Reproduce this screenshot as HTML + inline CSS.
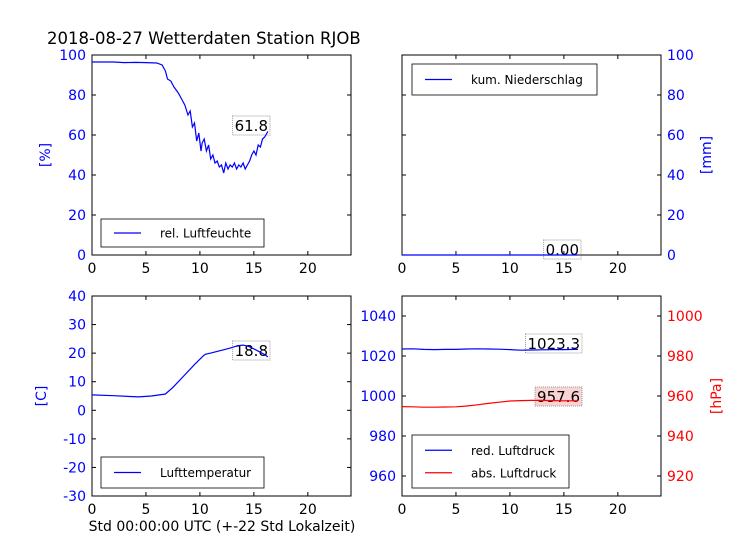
<!DOCTYPE html>
<html><head><meta charset="utf-8"><style>
body{margin:0;background:#fff;}
svg{display:block;font-family:"DejaVu Sans","Liberation Sans",sans-serif;}
</style></head><body>
<svg id="fig" width="736" height="552" xmlns="http://www.w3.org/2000/svg">
<rect width="736" height="552" fill="#fff"/>
<text x="47" y="44" font-size="16.5">2018-08-27 Wetterdaten Station RJOB</text>
<text x="222" y="531" font-size="14" text-anchor="middle">Std 00:00:00 UTC (+-22 Std Lokalzeit)</text>
<g id="labels"></g>
<g id="layer"></g>
<g id="legends"></g>
</svg>
<script>
const hHum=[0,1,2,3,4,5,6,6.5,6.8,7,7.3,7.6,8,8.3,8.6,8.9,9.1,9.3,9.5,9.7,9.9,10.1,10.2,10.4,10.6,10.8,11,11.2,11.4,11.6,11.8,12,12.2,12.4,12.6,12.8,13,13.2,13.4,13.6,13.8,14,14.2,14.4,14.6,14.8,15,15.2,15.4,15.6,15.8,16,16.3];
const humidity=[96.5,96.5,96.5,96.2,96.3,96.2,96,95,92,88,87,84,81,78,75,70,72,64,66,57,61,52,56,58,52,55,48,50,46,47,44,45,41,46,43,45,44,46,43,45,44,46,43,45,47,50,52,50,55,54,58,59,61.8];
const hTemp=[0,2,4.3,5.5,6.8,7.5,8.5,9.5,10.3,10.5,11,11.5,12,12.5,13,13.5,14,14.5,15,15.5,16,16.3];
const temperature=[5.4,5.1,4.7,5.0,5.7,8,12,16,19,19.6,20,20.5,21,21.5,22,22.6,22.8,22.4,21.5,20.5,19.5,18.7];
const hPres=[0,1,2,3,4,5,6,7,8,9,10,11,12,13,14,15,16,16.3];
const redPressure=[1023.5,1023.6,1023.3,1023.2,1023.3,1023.3,1023.5,1023.6,1023.5,1023.4,1023.2,1022.9,1023.0,1023.1,1023.2,1023.2,1023.3,1023.3];
const absPressure=[954.7,954.6,954.4,954.4,954.5,954.6,955.0,955.6,956.3,956.9,957.5,957.7,957.8,957.8,957.7,957.6,957.6,957.6];
const hRain=[0,16.3];
const rain=[0,0];
const xTicks=[0,5,10,15,20];

const NS="http://www.w3.org/2000/svg";
const L=document.getElementById('layer');
const LB=document.getElementById('labels');
const LG=document.getElementById('legends');
function mk(tag,attrs,parent){const e=document.createElementNS(NS,tag);for(const k in attrs)e.setAttribute(k,attrs[k]);(parent||L).appendChild(e);return e;}
function axes(x0,y0,w,h,ymin,ymax){return{x:v=>x0+v/24*w,y:v=>y0+h-(v-ymin)/(ymax-ymin)*h,x0,y0,w,h};}

function frame(a,name){
  const r=mk('rect',{x:a.x0,y:a.y0,width:a.w,height:a.h,fill:'none',stroke:'#000','stroke-width':1});
  
  
  xTicks.forEach(t=>{
    const X=a.x(t);
    mk('line',{x1:X,y1:a.y0+a.h,x2:X,y2:a.y0+a.h-4,stroke:'#000'});
    mk('line',{x1:X,y1:a.y0,x2:X,y2:a.y0+4,stroke:'#000'});
    const tx=mk('text',{x:X,y:a.y0+a.h+18,'font-size':14,'text-anchor':'middle'});
    tx.textContent=t;
    
    
  });
}
function yticks(a,vals,side,color,name,scale){
  vals.forEach(v=>{
    const Y=scale(v);
    mk('line',{x1:a.x0,y1:Y,x2:a.x0+4,y2:Y,stroke:'#000'});
    mk('line',{x1:a.x0+a.w,y1:Y,x2:a.x0+a.w-4,y2:Y,stroke:'#000'});
    const tx=side==='left'?mk('text',{x:a.x0-6,y:Y+5,'font-size':14,'text-anchor':'end',fill:color}):mk('text',{x:a.x0+a.w+6,y:Y+5,'font-size':14,'text-anchor':'start',fill:color});
    tx.textContent=v;
    
    
  });
}
function line(a,xs,ys,color,name,scale){
  const pts=xs.map((x,i)=>a.x(x).toFixed(1)+','+scale(ys[i]).toFixed(1)).join(' ');
  const p=mk('polyline',{points:pts,fill:'none',stroke:color,'stroke-width':1.2});
  
  
}
function label(x,y,txt,bg,name){
  const r=mk('rect',{x:0,y:y-15,width:10,height:19,fill:bg,'fill-opacity':0.6,stroke:'#999','stroke-dasharray':'1,1'},LB);
  const t=mk('text',{x:x,y:y,'font-size':15,'text-anchor':'end'},LB);
  t.textContent=txt;
  
  
  const w=t.getComputedTextLength();
  r.setAttribute('x',x-w-2);r.setAttribute('width',w+4);
}
function legend(x,y,w,h,entries,name){
  const g=mk('g',{},LG);
  
  
  mk('rect',{x:x,y:y,width:w,height:h,fill:'#fff',stroke:'#000','stroke-width':0.8},g);
  entries.forEach((e,i)=>{
    const Y=y+h/(entries.length)*(i+0.5)+(entries.length>1?(i===0?2:-2):0);
    mk('line',{x1:x+13,y1:Y,x2:x+40,y2:Y,stroke:e[1],'stroke-width':1.2},g);
    const t=mk('text',{x:x+59,y:Y+4.5,'font-size':12},g);t.textContent=e[0];
  });
}
function ytitle(x,y,txt,color,name){
  const t=mk('text',{x:x,y:y,'font-size':14,fill:color,'text-anchor':'middle',transform:`rotate(-90 ${x} ${y})`});
  t.textContent=txt;
  
  
}

const a1=axes(92,55,259,200,0,100);
frame(a1,'humidity');
yticks(a1,[0,20,40,60,80,100],'left','#00f','humidity',a1.y);
line(a1,hHum,humidity,'#00f','humidity-line',a1.y);
label(268,131,'61.8','#fff','humidity-last-value');
legend(101,219,163,28,[['rel. Luftfeuchte','#00f']],'humidity-legend');
ytitle(50,155,'[%]','#00f','humidity-y-title');

const a2=axes(402,55,259,200,0,100);
frame(a2,'rain');
yticks(a2,[0,20,40,60,80,100],'right','#00f','rain',a2.y);
line(a2,hRain,rain,'#00f','rain-line',a2.y);
label(579,255,'0.00','#fff','rain-last-value');
legend(412,64,185,31,[['kum. Niederschlag','#00f']],'rain-legend');
ytitle(711,155,'[mm]','#00f','rain-y-title');

const a3=axes(92,296,259,200,-30,40);
frame(a3,'temperature');
yticks(a3,[-30,-20,-10,0,10,20,30,40],'left','#00f','temperature',a3.y);
line(a3,hTemp,temperature,'#00f','temperature-line',a3.y);
label(268,356,'18.8','#fff','temperature-last-value');
legend(101,457,163,31,[['Lufttemperatur','#00f']],'temperature-legend');
ytitle(46,396,'[C]','#00f','temperature-y-title');

const a4=axes(402,296,259,200,950,1050);
const yr=v=>296+200-(v-910)/100*200;
frame(a4,'pressure');
yticks(a4,[960,980,1000,1020,1040],'left','#00f','pressure-red',a4.y);
[920,940,960,980,1000].forEach(v=>{
  const t=mk('text',{x:667,y:yr(v)+5,'font-size':14,fill:'#f00'});t.textContent=v;
  
  
});
line(a4,hPres,redPressure,'#00f','red-pressure-line',a4.y);
line(a4,hPres,absPressure,'#f00','abs-pressure-line',yr);
label(580,349,'1023.3','#fff','red-pressure-last-value');
label(580,402,'957.6','#f4b8b8','abs-pressure-last-value');
legend(412,435,157,53,[['red. Luftdruck','#00f'],['abs. Luftdruck','#f00']],'pressure-legend');
ytitle(721,396,'[hPa]','#f00','pressure-y-title');
</script>
</body></html>
